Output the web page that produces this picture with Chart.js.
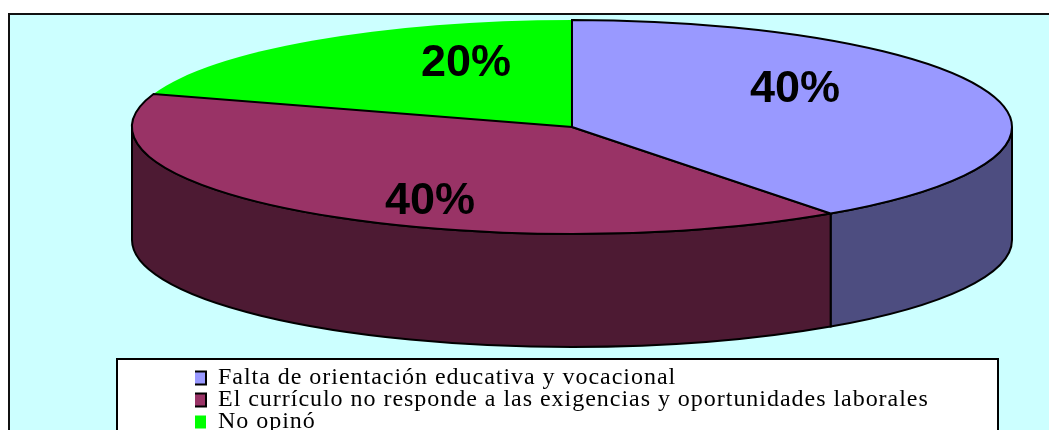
<!DOCTYPE html>
<html>
<head>
<meta charset="utf-8">
<script src="https://cdn.jsdelivr.net/npm/chart.js@4"></script>
<style>
  html, body { margin: 0; padding: 0; background: #ffffff; overflow: hidden; }
  canvas { display: block; }
</style>
</head>
<body>
<canvas id="pie_chart" width="1049" height="430"></canvas>
<script>
const categories = ["Falta de orientación educativa y vocacional", "El currículo no responde a las exigencias y oportunidades laborales", "No opinó"];
const values = [40, 40, 20];
const topColors = ["#9999FF", "#993366", "#00FF00"];
const sideColors = ["#4D4D80", "#4D1A33", "#008000"];
const edgeColors = ["#000000", "#000000", "#00FF00"];
const edgeWidths = [2, 2, 0];
// label centre, offset from the pie centre
const labelOffsets = [[223, -37], [-142, 75], [-106, -63]];

const depth = 113;

// flat pie from the library, drawn squashed with a side wall
const pie3d = {
  id: "pie3d",
  beforeDraw(chart) {
    const ctx = chart.ctx;
    ctx.save();
    ctx.fillStyle = "#ffffff";
    ctx.fillRect(0, 0, chart.width, chart.height);
    ctx.fillStyle = "#CCFFFF";
    ctx.strokeStyle = "#111111";
    ctx.lineWidth = 2;
    ctx.fillRect(9, 14, chart.width, chart.height);
    ctx.strokeRect(9, 14, chart.width + 10, chart.height + 10);
    ctx.fillStyle = "#ffffff";
    ctx.strokeStyle = "#000000";
    ctx.fillRect(117, 359, 881, 80);
    ctx.strokeRect(117, 359, 881, 80);
    ctx.restore();
    ctx.letterSpacing = "0.97px";
  },
  afterLayout(chart) {
    const legend = chart.legend;
    legend.left = 195;
    legend.right = 990;
    legend.top = 368;
    legend.bottom = 445;
  },
  beforeDatasetsDraw(chart) {
    const ctx = chart.ctx;
    ctx.letterSpacing = "0px";
    const area = chart.chartArea;
    const rx = area.width / 2;
    const ry = area.height / 2;
    const arcs = chart.getDatasetMeta(0).data;
    const cx = arcs[0].x;
    const cy = arcs[0].y;

    // side wall, only the front half shows
    arcs.forEach((arc, i) => {
      const a = Math.max(arc.startAngle, 0);
      const b = Math.min(arc.endAngle, Math.PI);
      if (b <= a) return;
      ctx.beginPath();
      ctx.ellipse(cx, cy, rx, ry, 0, a, b);
      ctx.ellipse(cx, cy + depth, rx, ry, 0, b, a, true);
      ctx.closePath();
      ctx.fillStyle = sideColors[i];
      ctx.fill();
      ctx.strokeStyle = "#000000";
      ctx.lineWidth = 2;
      ctx.stroke();
    });

    // top face, last slice first so black edges stay on top
    for (let i = arcs.length - 1; i >= 0; i--) {
      const arc = arcs[i];
      ctx.beginPath();
      ctx.moveTo(cx, cy);
      ctx.ellipse(cx, cy, rx, ry, 0, arc.startAngle, arc.endAngle);
      ctx.closePath();
      ctx.fillStyle = arc.options.backgroundColor;
      ctx.fill();
      if (arc.options.borderWidth > 0) {
        ctx.strokeStyle = arc.options.borderColor;
        ctx.lineWidth = arc.options.borderWidth;
        ctx.stroke();
      }
    }

    // percent labels
    ctx.save();
    ctx.font = "bold 45px 'Liberation Sans'";
    ctx.fillStyle = "#000000";
    ctx.textAlign = "center";
    ctx.textBaseline = "middle";
    const total = values.reduce((s, v) => s + v, 0);
    values.forEach((v, i) => {
      const text = Math.round((v / total) * 100) + "%";
      ctx.fillText(text, cx + labelOffsets[i][0], cy + labelOffsets[i][1]);
    });
    ctx.restore();
    return false;
  },
};

const pieChart = new Chart(document.getElementById("pie_chart"), {
  type: "pie",
  data: {
    labels: categories,
    datasets: [
      {
        data: values,
        backgroundColor: topColors,
        borderColor: edgeColors,
        borderWidth: edgeWidths,
        hoverOffset: 0,
      },
    ],
  },
  options: {
    responsive: false,
    animation: false,
    layout: {
      padding: { left: 132, right: 37, top: 20, bottom: 196 },
    },
    plugins: {
      tooltip: { enabled: false },
      legend: {
        display: true,
        position: "chartArea",
        align: "start",
        labels: {
          boxWidth: 13,
          boxHeight: 13,
          padding: -2,
          color: "#000000",
          font: { family: "'Liberation Serif'", size: 24 },
        },
      },
    },
  },
  plugins: [pie3d],
});
</script>
</body>
</html>
